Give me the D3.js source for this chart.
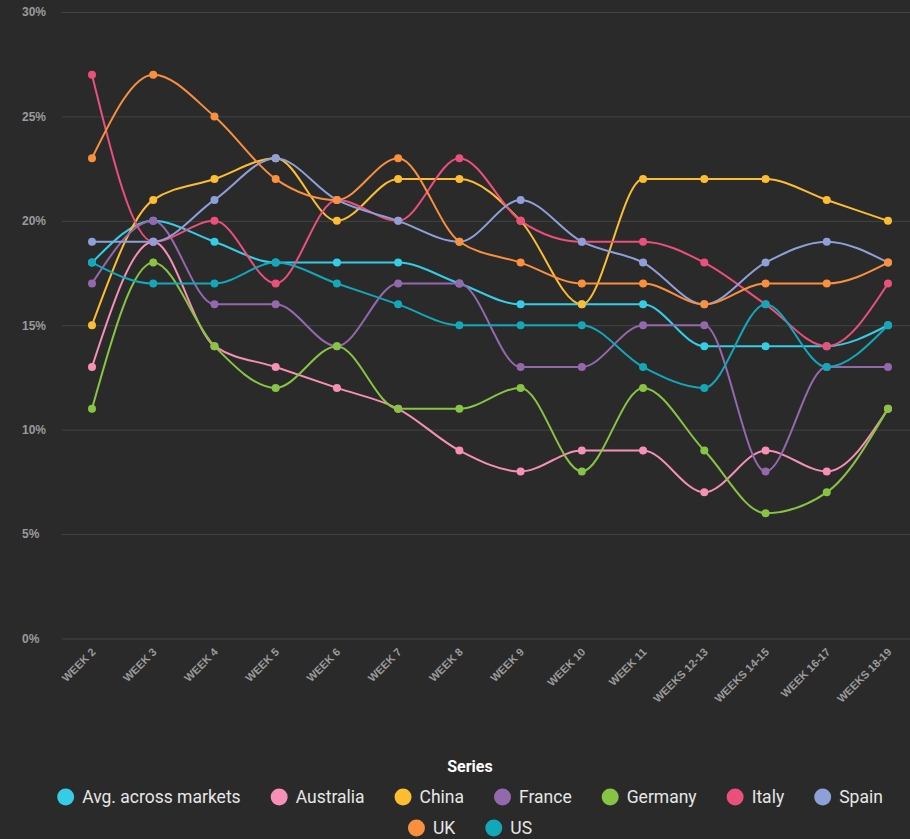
<!DOCTYPE html>
<html>
<head>
<meta charset="utf-8">
<script src="https://cdn.jsdelivr.net/npm/d3@7"></script>
<style>
  body { margin:0; background:#2a2a2a; overflow:hidden; }
  svg { display:block; font-family: Roboto, "Noto Sans", sans-serif; }
  .yAxis text { fill:#9a9a9a; font-size:12px; font-weight:700; }
  .xAxis text { fill:#9a9a9a; font-size:11px; font-weight:700; }
  .legend text { fill:#e6e6e6; font-size:17.5px; }
</style>
</head>
<body>
<div id="canvas"></div>
<script>
// categories and series values (percent)
var weeks = ['WEEK 2','WEEK 3','WEEK 4','WEEK 5','WEEK 6','WEEK 7','WEEK 8','WEEK 9',
  'WEEK 10','WEEK 11','WEEKS 12-13','WEEKS 14-15','WEEK 16-17','WEEKS 18-19'];
var seriesNames = ['Avg. across markets','Australia','China','France','Germany','Italy','Spain','UK','US'];
var avg       = [18,20,19,18,18,18,17,16,16,16,14,14,14,15];
var australia = [13,19,14,13,12,11,9,8,9,9,7,9,8,11];
var china     = [15,21,22,23,20,22,22,20,16,22,22,22,21,20];
var france    = [17,20,16,16,14,17,17,13,13,15,15,8,13,13];
var germany   = [11,18,14,12,14,11,11,12,8,12,9,6,7,11];
var italy     = [27,19,20,17,21,20,23,20,19,19,18,16,14,17];
var spain     = [19,19,21,23,21,20,19,21,19,18,16,18,19,18];
var uk        = [23,27,25,22,21,23,19,18,17,17,16,17,17,18];
var us        = [18,17,17,18,17,16,15,15,15,13,12,16,13,15];
var yTicks = [0,5,10,15,20,25,30];
var colors = ['#35cde6','#f790b6','#fcbd33','#9468ad','#88c443','#eb4f7b','#8fa0d8','#fa903d','#12a7b9'];

var values = [avg,australia,china,france,germany,italy,spain,uk,us];
var series = seriesNames.map(function(n,i){ return {name:n, color:colors[i], values:values[i]}; });

var W = 910, H = 839;
var m = {t:12, l:62};
var svg = d3.select('#canvas').append('svg').attr('width',W).attr('height',H);

var x = d3.scalePoint().domain(weeks).range([92, 888]);
var y = d3.scaleLinear().domain([0,30]).range([638.5, 12]);

// y axis with gridlines, labels left aligned
var axisY = d3.axisLeft(y).tickValues(yTicks).tickSize(0).tickPadding(0)
  .tickFormat(function(d){ return d + '%'; });
var gy = svg.append('g').attr('class','yAxis').attr('transform','translate(' + m.l + ',0)').call(axisY);
gy.select('.domain').remove();
gy.selectAll('.tick').append('line')
  .attr('x1',0).attr('x2',W - m.l)
  .attr('stroke','#444').attr('stroke-width',1);
gy.selectAll('.tick text')
  .attr('text-anchor','start')
  .attr('x', 22 - m.l)
  .attr('dy','0.32em');

// x axis
var axisX = d3.axisBottom(x).tickSize(0).tickPadding(0);
var gx = svg.append('g').attr('class','xAxis').attr('transform','translate(0,648)').call(axisX);
gx.select('.domain').remove();
gx.selectAll('.tick text')
  .attr('text-anchor','end')
  .attr('dy','0.35em')
  .attr('transform','translate(1,2) rotate(-45)');

// lines
var line = d3.line()
  .x(function(d,i){ return x(weeks[i]); })
  .y(function(d){ return y(d); })
  .curve(d3.curveMonotoneX);

var plot = svg.append('g');
plot.selectAll('path.series')
  .data(series)
  .enter().append('path')
  .attr('class','series')
  .attr('d', function(d){ return line(d.values); })
  .attr('fill','none')
  .attr('stroke', function(d){ return d.color; })
  .attr('stroke-width',2);

series.forEach(function(s){
  plot.selectAll(null)
    .data(s.values)
    .enter().append('circle')
    .attr('cx', function(d,i){ return x(weeks[i]); })
    .attr('cy', function(d){ return y(d); })
    .attr('r',4)
    .attr('fill', s.color);
});

// legend
var legend = svg.append('g').attr('class','legend');
legend.append('text')
  .attr('x',470).attr('y',772)
  .attr('text-anchor','middle')
  .style('font-weight','700')
  .style('fill','#ffffff')
  .style('font-size','16px')
  .text('Series');

var rows = [seriesNames.slice(0,7), seriesNames.slice(7)];
var rowY = [797, 828];
var idx = 0;
rows.forEach(function(names, r){
  var items = names.map(function(n){
    var g = legend.append('g');
    g.append('circle').attr('r',8.5).attr('cx',8.5).attr('cy',0).attr('fill',colors[idx]);
    var t = g.append('text').attr('x',25).attr('y',0).attr('dy','0.35em').text(n);
    idx++;
    return {g:g, w:25 + t.node().getComputedTextLength()};
  });
  var gap = 30;
  var total = d3.sum(items, function(d){ return d.w; }) + gap*(items.length-1);
  var cx = 470 - total/2;
  items.forEach(function(it){
    it.g.attr('transform','translate(' + cx + ',' + rowY[r] + ')');
    cx += it.w + gap;
  });
});
</script>
</body>
</html>
